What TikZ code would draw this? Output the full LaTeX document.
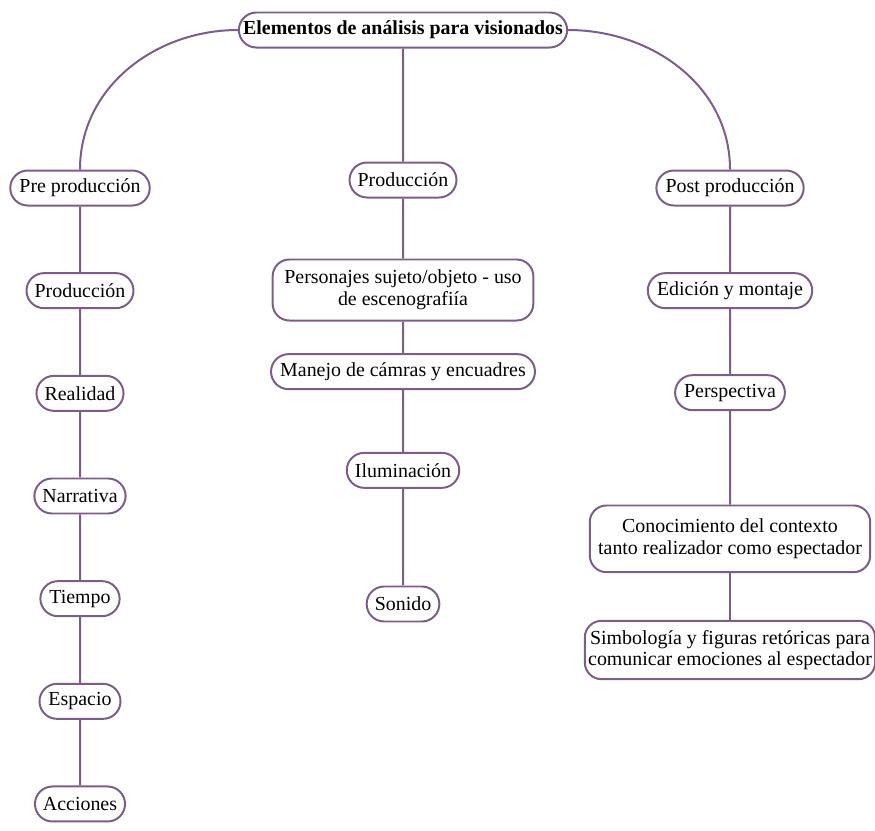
\documentclass[tikz,border=0pt]{standalone}
\usepackage{fontspec}
\setmainfont{Liberation Serif}
\usetikzlibrary{positioning, shapes.misc}
\definecolor{mapline}{RGB}{125,92,140}

\begin{document}
\begin{tikzpicture}[
		x=0.03cm, y=-0.03cm,
		node distance=1.97cm,
		font=\fontsize{17}{18.5}\selectfont,
		topic/.style={draw=mapline, line width=1.7pt, rounded rectangle, minimum height=1.05cm, inner xsep=0.2cm, align=center},
		twoline/.style={draw=mapline, line width=1.7pt, rectangle, rounded corners=0.5cm, inner xsep=0.35cm, align=center},
		link/.style={draw=mapline, line width=1.7pt}
		]
		\useasboundingbox (0,0) rectangle (875,830);
		
		% 1. Root
		\node[topic, inner xsep=0.05cm, font=\fontsize{17}{18.5}\selectfont\bfseries] (root) at (403,30) {Elementos de análisis para visionados};
		
		% 2. Pre production branch
		\node[topic] (pre) at (80,188) {Pre producción};
		\node[topic] (preprod) [below=of pre] {Producción};
		\node[topic] (real) [below=of preprod] {Realidad};
		\node[topic] (narr) [below=of real] {Narrativa};
		\node[topic] (time) [below=of narr] {Tiempo};
		\node[topic] (space) [below=of time] {Espacio};
		\node[topic] (acts) [below=of space] {Acciones};
		
		% 3. Production branch
		\node[topic] (prod) at (403,180) {Producción};
		\node[twoline, minimum height=1.83cm] (chars) [below=1.8cm of prod] {Personajes sujeto/objeto - uso\\ de escenografiía};
		\node[topic] (cams) [below=0.95cm of chars] {Manejo de cámras y encuadres};
		\node[topic] (light) [below=1.85cm of cams] {Iluminación};
		\node[topic] (sound) [below=2.9cm of light] {Sonido};
		
		% 4. Post production branch
		\node[topic] (post) at (730,188) {Post producción};
		\node[topic] (edit) [below=of post] {Edición y montaje};
		\node[topic] (persp) [below=1.95cm of edit] {Perspectiva};
		\node[twoline, minimum height=2cm, inner xsep=0.25cm] (context) [below=2.8cm of persp] {Conocimiento del contexto\\ tanto realizador como espectador};
		\node[twoline, minimum height=1.75cm, inner xsep=0.1cm] (symb) [below=1.4cm of context] {Simbología y figuras retóricas para\\ comunicar emociones al espectador};
		
		% Connectors from the root
		\draw[link] (root.west) to[out=180, in=90] (pre.north);
		\draw[link] (root) -- (prod);
		\draw[link] (root.east) to[out=0, in=90] (post.north);
		
		% Connectors down each branch
		\draw[link] (pre) -- (preprod);
		\draw[link] (preprod) -- (real);
		\draw[link] (real) -- (narr);
		\draw[link] (narr) -- (time);
		\draw[link] (time) -- (space);
		\draw[link] (space) -- (acts);
		
		\draw[link] (prod) -- (chars);
		\draw[link] (chars) -- (cams);
		\draw[link] (cams) -- (light);
		\draw[link] (light) -- (sound);
		
		\draw[link] (post) -- (edit);
		\draw[link] (edit) -- (persp);
		\draw[link] (persp) -- (context);
		\draw[link] (context) -- (symb);
		
	\end{tikzpicture}
\end{document}
